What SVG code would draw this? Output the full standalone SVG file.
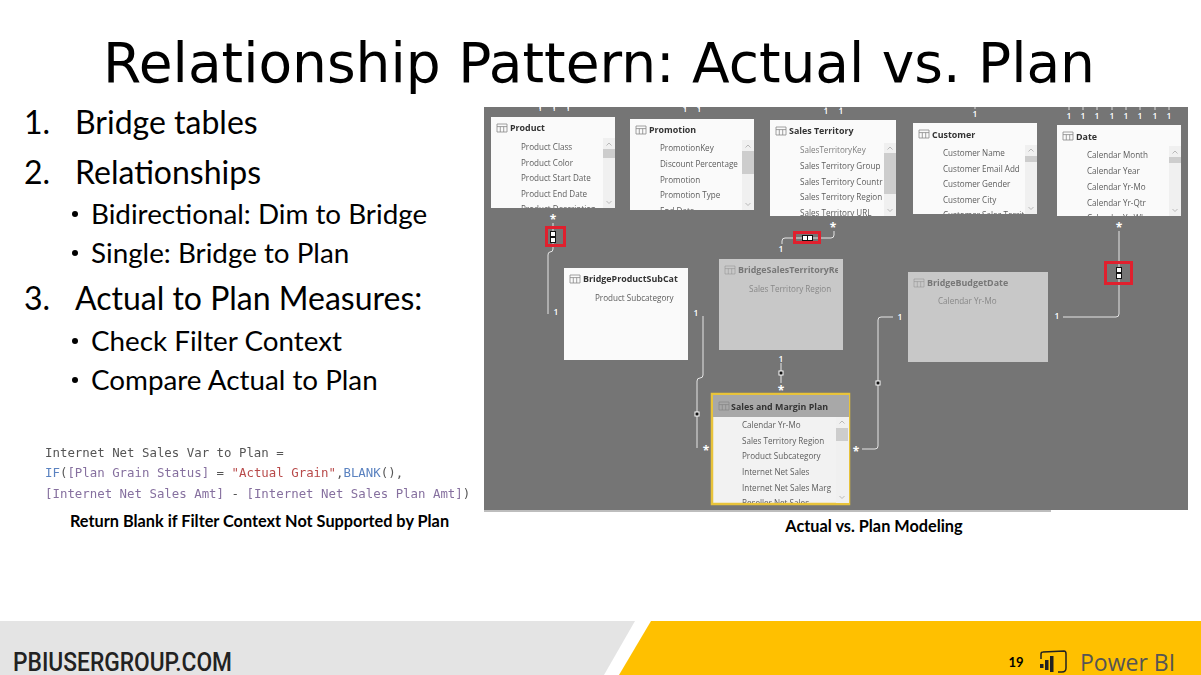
<svg xmlns="http://www.w3.org/2000/svg" width="1201" height="675" viewBox="0 0 1201 675">
<style>
text{font-family:"Lato","Noto Sans",sans-serif}
.title{font-family:"DejaVu Sans",sans-serif;font-size:55px;fill:#000}
.l1{font-size:32px;fill:#000}
.l2{font-size:27.8px;fill:#000}
.cap{font-size:16.3px;font-weight:700;fill:#000}
.code{font-family:"DejaVu Sans Mono","Liberation Mono",monospace;font-size:12.4px;font-weight:500;filter:blur(.3px)}
.hd{font-family:"Open Sans",sans-serif;font-size:8.9px;font-weight:700;fill:#333;filter:blur(.2px)}
.f{font-family:"Open Sans",sans-serif;font-size:8.1px;fill:#5c5c5c;filter:blur(.2px)}
.dim .hd{fill:#777}.dim .f{fill:#888}
.card{fill:#fafafa}.dimcard{fill:#c8c8c8}
.ln{fill:none;stroke:#e6e6e6;stroke-width:1}
.m{font-family:"Open Sans",sans-serif;font-size:8.5px;font-weight:600;fill:#fff;text-anchor:middle}
.s{font-size:12px;font-weight:700}
.red{fill:none;stroke:#e0202e;stroke-width:3}
.sb{fill:#f0f0f0}.th{fill:#cdcdcd}
.chev{fill:none;stroke:#aaa;stroke-width:.8}
.ic{fill:#111;stroke:#fff;stroke-width:1}
</style>
<defs>
<clipPath id="c1"><rect x="491" y="117" width="124" height="91"/></clipPath>
<clipPath id="c2"><rect x="630" y="119" width="124" height="91"/></clipPath>
<clipPath id="c3"><rect x="770" y="120" width="126" height="96"/></clipPath>
<clipPath id="c4"><rect x="913" y="123" width="124" height="91"/></clipPath>
<clipPath id="c5"><rect x="1057" y="125" width="124" height="91"/></clipPath>
<clipPath id="c6"><rect x="719" y="259" width="119" height="91"/></clipPath>
<clipPath id="c7"><rect x="713" y="395" width="136" height="108"/></clipPath>
<g id="tblicon"><path d="M0 0h10v8h-10z M0 2.6h10 M3.3 2.6v5.4 M6.7 2.6v5.4" fill="none" stroke="#888" stroke-width=".8"/></g>
<path id="up" class="chev" d="M-2.500 1.500L0 -1L2.500 1.500"/>
<path id="dn" class="chev" d="M-2.500 -1L0 1.500L2.500 -1"/>
</defs>

<text class="title" x="599" y="82" text-anchor="middle">Relationship Pattern: Actual vs. Plan</text>

<g id="bullets">
<text class="l1" x="24" y="134">1.</text><text class="l1" x="75" y="134">Bridge tables</text>
<text class="l1" x="24" y="184">2.</text><text class="l1" x="75" y="184">Relationships</text>
<circle cx="75" cy="214" r="3"/><text class="l2" x="91" y="224">Bidirectional: Dim to Bridge</text>
<circle cx="75" cy="253" r="3"/><text class="l2" x="91" y="263">Single: Bridge to Plan</text>
<text class="l1" x="24" y="310">3.</text><text class="l1" x="75" y="310">Actual to Plan Measures:</text>
<circle cx="75" cy="341" r="3"/><text class="l2" x="91" y="351">Check Filter Context</text>
<circle cx="75" cy="380" r="3"/><text class="l2" x="91" y="390">Compare Actual to Plan</text>
</g>

<g id="code">
<text class="code" x="45" y="457" fill="#555">Internet Net Sales Var to Plan =</text>
<text class="code" x="45" y="477"><tspan fill="#5a82c0">IF</tspan><tspan fill="#555">(</tspan><tspan fill="#86709f">[Plan Grain Status]</tspan><tspan fill="#555"> = </tspan><tspan fill="#b84a4a">"Actual Grain"</tspan><tspan fill="#555">,</tspan><tspan fill="#5a82c0">BLANK</tspan><tspan fill="#555">(),</tspan></text>
<text class="code" x="45" y="498"><tspan fill="#86709f">[Internet Net Sales Amt]</tspan><tspan fill="#555"> - </tspan><tspan fill="#86709f">[Internet Net Sales Plan Amt]</tspan><tspan fill="#555">)</tspan></text>
<text class="cap" x="259.500" y="527" text-anchor="middle">Return Blank if Filter Context Not Supported by Plan</text>
</g>

<rect x="484" y="107" width="704" height="403" fill="#757575"/>
<rect x="484" y="510" width="567" height="2" fill="#bdbdbd"/>
<text class="cap" x="874" y="532" text-anchor="middle">Actual vs. Plan Modeling</text>

<g id="connectors">
<path class="ln" d="M553 223V249Q553 252 550 252Q548 252 548 255V314"/>
<path class="ln" d="M782 244V241Q782 238 785 238H831Q834 238 834 235V231"/>
<path class="ln" d="M1119 231V314Q1119 317 1116 317H1063"/>
<path class="ln" d="M703 316V375Q703 378 700 378Q697 378 697 381V448"/>
<path class="ln" d="M781 363V383"/>
<path class="ln" d="M893 317H881Q878 317 878 320V446Q878 449 875 449H862"/>
<g id="marks">
<path d="M540 107v2M554 107v2M568 107v2M685 107v2M699 107v2M826 107v2M841 107v2M975 107v2M1069 107v3M1083 107v3M1097 107v3M1112 107v3M1126 107v3M1140 107v3M1155 107v3M1169 107v3" stroke="#ddd"/>
<text class="m" x="540" y="111">1</text><text class="m" x="554" y="111">1</text><text class="m" x="568" y="111">1</text>
<text class="m" x="685" y="112">1</text><text class="m" x="699" y="112">1</text>
<text class="m" x="826" y="114">1</text><text class="m" x="841" y="114">1</text>
<text class="m" x="975" y="117">1</text>
<text class="m" x="1069" y="119">1</text><text class="m" x="1083" y="119">1</text><text class="m" x="1097" y="119">1</text><text class="m" x="1112" y="119">1</text><text class="m" x="1126" y="119">1</text><text class="m" x="1140" y="119">1</text><text class="m" x="1155" y="119">1</text><text class="m" x="1169" y="119">1</text>
<text class="m s" x="553" y="224">*</text><text class="m s" x="833" y="232">*</text><text class="m s" x="1119" y="232">*</text>
<text class="m" x="781" y="252">1</text><text class="m" x="556" y="315">1</text><text class="m" x="696" y="316">1</text>
<text class="m" x="781" y="362">1</text><text class="m s" x="781" y="395">*</text><text class="m s" x="706" y="455">*</text><text class="m s" x="856" y="456">*</text>
<text class="m" x="900" y="320">1</text><text class="m" x="1057" y="319">1</text>
<rect x="550" y="231" width="6" height="12" fill="#111"/><rect x="551" y="232" width="4" height="4" fill="#fff"/><rect x="551" y="238" width="4" height="4" fill="#fff"/>
<rect x="802" y="235" width="11" height="6" fill="#111"/><rect x="803" y="236" width="4" height="4" fill="#fff"/><rect x="808" y="236" width="4" height="4" fill="#fff"/>
<rect x="1116" y="267" width="6" height="12" fill="#111"/><rect x="1117" y="268" width="4" height="4" fill="#fff"/><rect x="1117" y="274" width="4" height="4" fill="#fff"/>
<rect class="ic" x="779" y="371" width="4" height="4"/>
<rect class="ic" x="695" y="412" width="4" height="4"/>
<rect class="ic" x="876" y="381" width="4" height="4"/>
</g>
<rect class="red" x="546.500" y="227.500" width="18" height="18"/>
<rect class="red" x="794.500" y="232.500" width="25" height="10"/>
<rect class="red" x="1105.500" y="262.500" width="26" height="21"/>
</g>

<g id="product" clip-path="url(#c1)">
<rect class="card" x="491" y="117" width="124" height="91"/>
<use href="#tblicon" x="497" y="124"/><text class="hd" x="510" y="131">Product</text>
<rect class="sb" x="603" y="138" width="12" height="70"/><rect class="th" x="603" y="149" width="12" height="9"/>
<use href="#up" x="609" y="144"/><use href="#dn" x="609" y="202"/>
<text class="f" x="521" y="150">Product Class</text><text class="f" x="521" y="166">Product Color</text><text class="f" x="521" y="181">Product Start Date</text><text class="f" x="521" y="197">Product End Date</text><text class="f" x="521" y="212">Product Description</text>
</g>
<g id="promotion" clip-path="url(#c2)">
<rect class="card" x="630" y="119" width="124" height="91"/>
<use href="#tblicon" x="636" y="126"/><text class="hd" x="649" y="133">Promotion</text>
<rect class="sb" x="742" y="140" width="12" height="70"/><rect class="th" x="742" y="151" width="12" height="23"/>
<use href="#up" x="748" y="146"/><use href="#dn" x="748" y="204"/>
<text class="f" x="660" y="151">PromotionKey</text><text class="f" x="660" y="167">Discount Percentage</text><text class="f" x="660" y="183">Promotion</text><text class="f" x="660" y="198">Promotion Type</text><text class="f" x="660" y="214">End Date</text>
</g>
<g id="sales-territory" clip-path="url(#c3)">
<rect class="card" x="770" y="120" width="126" height="96"/>
<use href="#tblicon" x="776" y="127"/><text class="hd" x="789" y="134">Sales Territory</text>
<rect class="sb" x="884" y="143" width="12" height="73"/><rect class="th" x="884" y="153" width="12" height="41"/>
<use href="#up" x="890" y="148"/><use href="#dn" x="890" y="210"/>
<text class="f" x="800" y="153" fill-opacity=".8">SalesTerritoryKey</text><text class="f" x="800" y="169">Sales Territory Group</text><text class="f" x="800" y="185">Sales Territory Countr</text><text class="f" x="800" y="200">Sales Territory Region</text><text class="f" x="800" y="216">Sales Territory URL</text>
</g>
<g id="customer" clip-path="url(#c4)">
<rect class="card" x="913" y="123" width="124" height="91"/>
<use href="#tblicon" x="919" y="130"/><text class="hd" x="932" y="138">Customer</text>
<rect class="sb" x="1025" y="145" width="12" height="69"/><rect class="th" x="1025" y="156" width="12" height="6"/>
<use href="#up" x="1031" y="150"/><use href="#dn" x="1031" y="208"/>
<text class="f" x="943" y="156">Customer Name</text><text class="f" x="943" y="172">Customer Email Add</text><text class="f" x="943" y="187">Customer Gender</text><text class="f" x="943" y="203">Customer City</text><text class="f" x="943" y="218">Customer Sales Territ</text>
</g>
<g id="date" clip-path="url(#c5)">
<rect class="card" x="1057" y="125" width="124" height="91"/>
<use href="#tblicon" x="1063" y="132"/><text class="hd" x="1076" y="140">Date</text>
<rect class="sb" x="1169" y="146" width="12" height="70"/><rect class="th" x="1169" y="157" width="12" height="6"/>
<use href="#up" x="1175" y="152"/><use href="#dn" x="1175" y="210"/>
<text class="f" x="1087" y="158">Calendar Month</text><text class="f" x="1087" y="174">Calendar Year</text><text class="f" x="1087" y="190">Calendar Yr-Mo</text><text class="f" x="1087" y="206">Calendar Yr-Qtr</text><text class="f" x="1087" y="221">Calendar Yr-Wk</text>
</g>
<g id="bridge-product">
<rect class="card" x="564" y="268" width="124" height="92"/>
<use href="#tblicon" x="570" y="275"/><text class="hd" x="583" y="282">BridgeProductSubCat</text>
<text class="f" x="595" y="301">Product Subcategory</text>
</g>
<g id="bridge-territory" class="dim">
<rect class="dimcard" x="719" y="259" width="124" height="91"/>
<use href="#tblicon" x="725" y="266" opacity=".6"/>
<g clip-path="url(#c6)"><text class="hd" x="738" y="273">BridgeSalesTerritoryRep</text></g>
<text class="f" x="749" y="292">Sales Territory Region</text>
</g>
<g id="bridge-budget" class="dim">
<rect class="dimcard" x="908" y="272" width="140" height="90"/>
<use href="#tblicon" x="914" y="279" opacity=".6"/><text class="hd" x="927" y="286">BridgeBudgetDate</text>
<text class="f" x="938" y="304">Calendar Yr-Mo</text>
</g>
<g id="sales-margin-plan">
<rect x="712" y="394" width="137" height="110" fill="#f2f2f2" stroke="#e8c33a" stroke-width="2.500"/>
<g clip-path="url(#c7)">
<rect x="713" y="395" width="136" height="22" fill="#a8a8a8"/>
<use href="#tblicon" x="719" y="402"/><text class="hd" x="731" y="410">Sales and Margin Plan</text>
<rect class="sb" x="836" y="417" width="13" height="86"/><rect class="th" x="836" y="428" width="12" height="13"/>
<use href="#up" x="842" y="422"/><use href="#dn" x="842" y="497"/>
<text class="f" x="742" y="428">Calendar Yr-Mo</text><text class="f" x="742" y="444">Sales Territory Region</text><text class="f" x="742" y="459">Product Subcategory</text><text class="f" x="742" y="475">Internet Net Sales</text><text class="f" x="742" y="491">Internet Net Sales Marg</text><text class="f" x="742" y="506">Reseller Net Sales</text>
</g>
</g>

<g id="footer">
<path d="M0 621H635L604 675H0Z" fill="#e4e4e4"/>
<path d="M651 621H1201V675H619Z" fill="#ffc000"/>
<text x="13" y="671" font-size="25" font-weight="500" fill="#222" textLength="219" lengthAdjust="spacingAndGlyphs" style='font-family:"Roboto",sans-serif'>PBIUSERGROUP.COM</text>
<text x="1016" y="667" font-size="13" font-weight="700" fill="#000" text-anchor="middle">19</text>
<g fill="#222"><rect x="1040" y="664" width="3.500" height="4"/><rect x="1045" y="660" width="3.500" height="10"/><rect x="1050" y="656" width="3.500" height="16"/></g>
<path d="M1041 659V654Q1041 652 1043 652L1064 651Q1066 651 1066 654V668Q1066 672 1062 672H1058" fill="none" stroke="#222" stroke-width="1.500"/>
<text x="1080" y="671" font-size="23" fill="#555" style='font-family:"Open Sans",sans-serif'>Power BI</text>
</g>
</svg>
